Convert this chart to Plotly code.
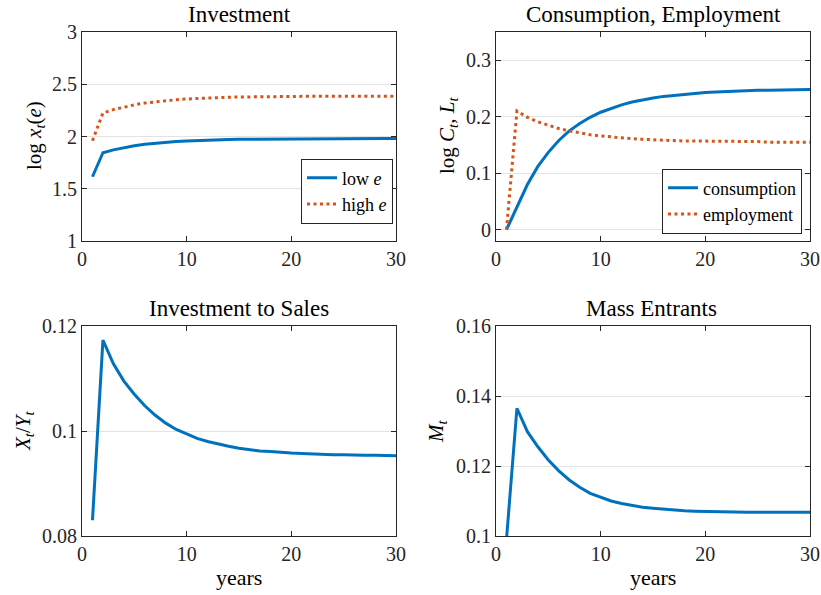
import plotly.graph_objects as go

years = list(range(1, 31))

invest_low_e = [1.615, 1.845, 1.872, 1.894, 1.911, 1.925, 1.936, 1.945, 1.952, 1.957,
                1.962, 1.965, 1.968, 1.971, 1.973, 1.974, 1.975, 1.976, 1.977, 1.978,
                1.978, 1.979, 1.979, 1.979, 1.980, 1.980, 1.980, 1.980, 1.980, 1.980]
invest_high_e = [1.960, 2.225, 2.257, 2.283, 2.303, 2.320, 2.333, 2.344, 2.352, 2.359,
                 2.365, 2.369, 2.373, 2.376, 2.378, 2.380, 2.381, 2.382, 2.383, 2.383,
                 2.384, 2.384, 2.384, 2.385, 2.385, 2.385, 2.385, 2.385, 2.385, 2.385]
consumption = [0.000, 0.040, 0.080, 0.112, 0.137, 0.158, 0.175, 0.188, 0.199, 0.208,
               0.215, 0.221, 0.226, 0.230, 0.233, 0.236, 0.238, 0.240, 0.242, 0.243,
               0.244, 0.245, 0.246, 0.246, 0.247, 0.247, 0.247, 0.248, 0.248, 0.248]
employment = [0.000, 0.210, 0.199, 0.191, 0.185, 0.179, 0.175, 0.171, 0.168, 0.166,
              0.164, 0.162, 0.161, 0.160, 0.159, 0.158, 0.158, 0.157, 0.157, 0.157,
              0.156, 0.156, 0.156, 0.156, 0.156, 0.155, 0.155, 0.155, 0.155, 0.155]
invest_to_sales = [0.0830, 0.1173, 0.1128, 0.1095, 0.1070, 0.1048, 0.1030, 0.1015, 0.1003, 0.0994,
                   0.0986, 0.0980, 0.0975, 0.0971, 0.0967, 0.0964, 0.0962, 0.0961, 0.0959, 0.0958,
                   0.0957, 0.0956, 0.0956, 0.0955, 0.0955, 0.0954, 0.0954, 0.0954, 0.0953, 0.0953]
mass_entrants = [0.0990, 0.1365, 0.1298, 0.1255, 0.1217, 0.1186, 0.1160, 0.1139, 0.1122, 0.1110,
                 0.1100, 0.1093, 0.1087, 0.1082, 0.1079, 0.1076, 0.1074, 0.1072, 0.1071, 0.1070,
                 0.1070, 0.1069, 0.1069, 0.1068, 0.1068, 0.1068, 0.1068, 0.1068, 0.1068, 0.1068]

x_ticks = [0, 10, 20, 30]
tl_ticks = [1, 1.5, 2, 2.5, 3]
tl_labels = ["1", "1.5", "2", "2.5", "3"]
tr_ticks = [0, 0.1, 0.2, 0.3]
tr_labels = ["0", "0.1", "0.2", "0.3"]
bl_ticks = [0.08, 0.1, 0.12]
bl_labels = ["0.08", "0.1", "0.12"]
br_ticks = [0.1, 0.12, 0.14, 0.16]
br_labels = ["0.1", "0.12", "0.14", "0.16"]

BLUE = "#0072BD"
ORANGE = "#D95319"
AX = "#262626"
FONT = "Liberation Serif"
W, H = 821, 595

fig = go.Figure()

def px_x(p):
    return p / W

def px_y(p):
    return 1 - p / H

solid = dict(color=BLUE, width=3)
dotted = dict(color=ORANGE, width=3, dash="3px,3.5px")

fig.add_trace(go.Scatter(x=years, y=invest_low_e, mode="lines", line=solid,
                         name="low <i>e</i>", xaxis="x", yaxis="y", legend="legend"))
fig.add_trace(go.Scatter(x=years, y=invest_high_e, mode="lines", line=dotted,
                         name="high <i>e</i>", xaxis="x", yaxis="y", legend="legend"))
fig.add_trace(go.Scatter(x=years, y=consumption, mode="lines", line=solid,
                         name="consumption", xaxis="x2", yaxis="y2", legend="legend2"))
fig.add_trace(go.Scatter(x=years, y=employment, mode="lines", line=dotted,
                         name="employment", xaxis="x2", yaxis="y2", legend="legend2"))
fig.add_trace(go.Scatter(x=years, y=invest_to_sales, mode="lines", line=solid,
                         showlegend=False, xaxis="x3", yaxis="y3"))
fig.add_trace(go.Scatter(x=years, y=mass_entrants, mode="lines", line=solid,
                         showlegend=False, xaxis="x4", yaxis="y4"))

TICKFONT = dict(family=FONT, size=20, color=AX)

def xax(dom, anchor):
    return dict(domain=dom, anchor=anchor, range=[0, 30], tickvals=x_ticks,
                ticks="inside", ticklen=5, tickcolor=AX, showline=True, linecolor=AX,
                linewidth=1, mirror="ticks", showgrid=False, zeroline=False,
                automargin=False, tickfont=TICKFONT)

def yax(dom, anchor, rng, tv, tt):
    return dict(domain=dom, anchor=anchor, range=rng, tickvals=tv, ticktext=tt,
                ticks="inside", ticklen=5, tickcolor=AX, showline=True, linecolor=AX,
                linewidth=1, mirror="ticks", showgrid=True, gridcolor="#e3e3e3",
                gridwidth=1, zeroline=False, automargin=False, tickfont=TICKFONT)

xl = [px_x(82), px_x(396)]
xr = [px_x(496), px_x(810)]
yt = [px_y(241), px_y(32)]
yb = [px_y(536), px_y(326)]

legend_style = dict(bgcolor="white", bordercolor=AX, borderwidth=1,
                    font=dict(family=FONT, size=18, color="black"),
                    xanchor="right", yanchor="middle", itemwidth=30,
                    tracegroupgap=0)

fig.update_layout(
    width=W, height=H,
    autosize=False,
    margin=dict(l=0, r=0, t=0, b=0, pad=0, autoexpand=False),
    paper_bgcolor="white", plot_bgcolor="white",
    font=dict(family=FONT, color=AX),
    xaxis=xax(xl, "y"), yaxis=yax(yt, "x", [1, 3], tl_ticks, tl_labels),
    xaxis2=xax(xr, "y2"), yaxis2=yax(yt, "x2", [-0.02, 0.35], tr_ticks, tr_labels),
    xaxis3=xax(xl, "y3"), yaxis3=yax(yb, "x3", [0.08, 0.12], bl_ticks, bl_labels),
    xaxis4=xax(xr, "y4"), yaxis4=yax(yb, "x4", [0.1, 0.16], br_ticks, br_labels),
    legend=dict(x=px_x(393), y=px_y(191), **legend_style),
    legend2=dict(x=px_x(802), y=px_y(201), **legend_style),
    showlegend=True,
)

def ann(text, x, y, size=23, angle=0):
    fig.add_annotation(text=text, x=px_x(x), y=px_y(y), xref="paper", yref="paper",
                       showarrow=False, textangle=angle, xanchor="center", yanchor="middle",
                       font=dict(family=FONT, size=size, color="black"))

ann("Investment", 239, 14)
ann("Consumption, Employment", 653, 14)
ann("Investment to Sales", 239, 308)
ann("Mass Entrants", 651, 308)
ann("years", 239, 577, size=22)
ann("years", 653, 577, size=22)
ann("log <i>x</i><sub><i>t</i></sub>(<i>e</i>)", 35, 136, size=21, angle=-90)
ann("log <i>C</i><sub><i>t</i></sub>, <i>L</i><sub><i>t</i></sub>", 448, 136, size=21, angle=-90)
ann("<i>X</i><sub><i>t</i></sub>/<i>Y</i><sub><i>t</i></sub>", 24, 431, size=21, angle=-90)
ann("<i>M</i><sub><i>t</i></sub>", 437, 431, size=21, angle=-90)

fig.write_html("out.html", config={"displayModeBar": False},
               post_script="document.body.style.margin='0';")
